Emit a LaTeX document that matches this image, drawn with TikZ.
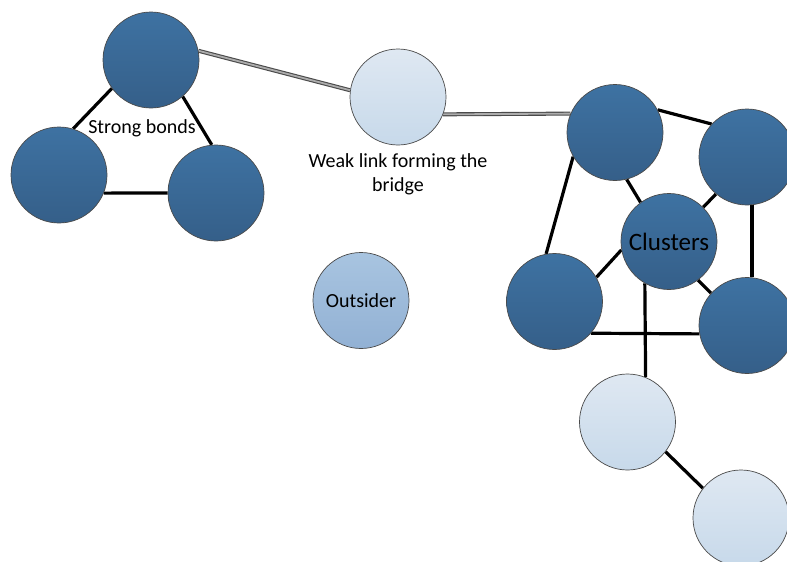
\documentclass[tikz,border=0pt]{standalone}
\usepackage{fontspec}
\setmainfont{Carlito}
\usetikzlibrary{backgrounds}
\definecolor{darkTop}{HTML}{3E72A2}
\definecolor{darkBot}{HTML}{355F89}
\definecolor{lightTop}{HTML}{DFE8F2}
\definecolor{lightBot}{HTML}{C7D9EA}
\definecolor{outTop}{HTML}{A8C4E0}
\definecolor{outBot}{HTML}{92B1D4}
\definecolor{rimcol}{HTML}{4A4A4A}
\tikzset{
  ball/.style={circle, minimum size=96pt, inner sep=0pt, draw=rimcol, line width=0.7pt},
  darkball/.style={ball, top color=darkTop, bottom color=darkBot},
  lightball/.style={ball, top color=lightTop, bottom color=lightBot},
  outball/.style={ball, top color=outTop, bottom color=outBot},
  bond/.style={line width=3.2pt, black},
  weak/.style={draw=rimcol, line width=1.1pt, double=gray!65, double distance=1.8pt},
  lbl/.style={font=\fontsize{20}{24}\selectfont, text=black, align=center, inner sep=0pt}
}
\begin{document}
\begin{tikzpicture}[x=1pt,y=-1pt]
\useasboundingbox (0,0) rectangle (787,562);
% left group
\node[darkball] (tl) at (151,60) {};
\node[darkball] (l) at (59,175) {};
\node[darkball] (lr) at (216,193) {};
% bridge & outsider
\node[lightball] (br) at (398,97) {};
\node[outball] (out) at (361,300.5) {};
\node[lbl] at (out.center) {Outsider};
% right cluster
\node[darkball] (a) at (615,132.5) {};
\node[darkball] (b) at (747,157) {};
\node[darkball] (c) at (669,241.5) {};
\node[darkball] (d) at (554.5,301.5) {};
\node[darkball] (e) at (747,325.5) {};
\node[lightball] (f) at (627.5,422) {};
\node[lightball] (g) at (741,518) {};
\node[lbl, font=\fontsize{25}{30}\selectfont] at (c.center) {Clusters};
% labels
\node[lbl] (sb) at (142,128) {Strong bonds};
\node[lbl] (wl) at (398,174) {Weak link forming the\\bridge};
\begin{scope}[on background layer]
  \draw[bond] (tl.-144) -- (l.73);
  \draw[bond] (tl.-49) -- (lr.95);
  \draw[bond] (l.-22) -- (lr.180);
  \draw[weak] (tl.11) -- (br.172);
  \draw[weak] (br.-21.6) -- (a.157.8);
  \draw[bond] (a.28) -- (b.137);
  \draw[bond] (a.-150) -- (d.100);
  \draw[bond] (a.-76) -- (c.126);
  \draw[bond] (b.-130) -- (c.45);
  \draw[bond] (b.-84) -- (e.84);
  \draw[bond] (c.-170) -- (d.30.5);
  \draw[bond] (c.-53) -- (e.138);
  \draw[bond] (d.-41) -- (e.190);
  \draw[bond] (c.-120) -- (f.68);
  \draw[bond] (f.-38) -- (g.142);
\end{scope}
\end{tikzpicture}
\end{document}
